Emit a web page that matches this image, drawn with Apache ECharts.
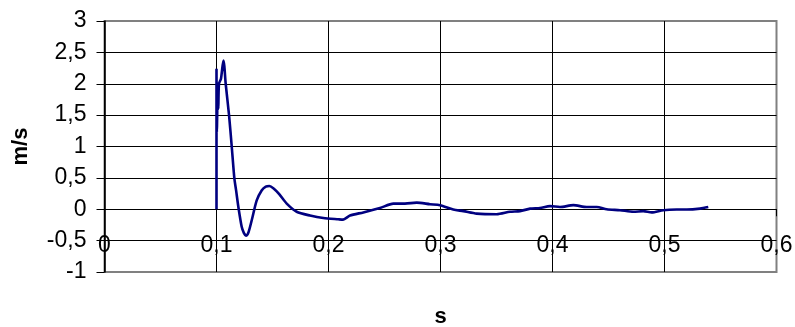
<!DOCTYPE html>
<html>
<head>
<meta charset="utf-8">
<script src="https://cdn.jsdelivr.net/npm/echarts@6/dist/echarts.min.js"></script>
<style>
  html, body { margin: 0; padding: 0; background: #fff; }
  #chart { width: 795px; height: 327px; }
</style>
</head>
<body>
<div id="chart"></div>
<script>
// Time samples (s) and velocity (m/s) of the recorded response
const timeS = [0.1, 0.1, 0.1003, 0.1012, 0.1016, 0.1022, 0.104, 0.1062, 0.1070, 0.1082,
  0.1112, 0.1136, 0.1159, 0.1175, 0.1195, 0.1225, 0.1245, 0.1263, 0.1285, 0.1314,
  0.1359, 0.1403, 0.1440, 0.1472, 0.1510, 0.1560, 0.1627, 0.1716, 0.1835, 0.1954,
  0.2088, 0.2130, 0.2192, 0.2311, 0.2460, 0.2579, 0.2683, 0.2788, 0.2906, 0.2996,
  0.3114, 0.3204, 0.3323, 0.3502, 0.3620, 0.3710, 0.3800, 0.3888, 0.3978, 0.4067,
  0.4186, 0.4305, 0.4395, 0.4484, 0.4603, 0.4722, 0.4811, 0.4886, 0.4989, 0.5109,
  0.5199, 0.5317, 0.5391];
const velocity = [0, 2.24, 1.23, 2.0, 1.6, 2.0, 2.08, 2.37, 2.28, 2.0,
  1.5, 1.0, 0.5, 0.3, 0.04, -0.28, -0.38, -0.42, -0.37, -0.18,
  0.14, 0.30, 0.36, 0.37, 0.33, 0.24, 0.09, -0.04, -0.10, -0.14,
  -0.16, -0.165, -0.10, -0.05, 0.02, 0.09, 0.09, 0.105, 0.08, 0.065,
  -0.005, -0.03, -0.07, -0.08, -0.04, -0.03, 0.01, 0.02, 0.05, 0.035,
  0.065, 0.035, 0.035, 0, -0.015, -0.04, -0.03, -0.05, -0.015, -0.005,
  -0.005, 0.01, 0.035];

const xTicks = { min: 0, max: 0.6, step: 0.1 };
const yTicks = { min: -1, max: 3, step: 0.5 };
const xTitle = 's';
const yTitle = 'm/s';

const points = timeS.map((t, i) => [t, velocity[i]]);
const comma = v => String(+v.toFixed(2)).replace('.', ',');
const font = 'Liberation Sans, Arial, sans-serif';

const chart = echarts.init(document.getElementById('chart'), null, { renderer: 'canvas' });
chart.setOption({
  animation: false,
  backgroundColor: '#fff',
  grid: {
    left: 104.5, right: 18.5, top: 21, bottom: 55,
    containLabel: false, outerBoundsMode: 'none',
    show: true, borderColor: '#808080', borderWidth: 2, backgroundColor: '#fff'
  },
  xAxis: {
    type: 'value',
    min: xTicks.min, max: xTicks.max, interval: xTicks.step,
    name: xTitle, nameLocation: 'middle', nameGap: 34,
    nameTextStyle: { fontFamily: font, fontSize: 22, fontWeight: 'bold', color: '#000' },
    axisLine: { show: true, onZero: true, lineStyle: { color: '#000', width: 1 } },
    axisTick: { show: true, inside: false, length: 7, lineStyle: { color: '#000' } },
    axisLabel: { margin: -38, fontFamily: font, fontSize: 23, color: '#000', formatter: comma,
      showMinLabel: true, showMaxLabel: true },
    splitLine: { show: true, showMaxLine: false, lineStyle: { color: '#000', width: 1 } }
  },
  yAxis: {
    type: 'value',
    min: yTicks.min, max: yTicks.max, interval: yTicks.step,
    name: yTitle, nameLocation: 'middle', nameGap: 73, nameRotate: 90,
    nameTextStyle: { fontFamily: font, fontSize: 22, fontWeight: 'bold', color: '#000' },
    axisLine: { show: true, lineStyle: { color: '#000', width: 1.5 } },
    axisTick: { show: true, inside: false, length: 8, lineStyle: { color: '#000' } },
    axisLabel: { margin: 18, fontFamily: font, fontSize: 23, color: '#000', formatter: comma },
    splitLine: { show: true, showMinLine: false, showMaxLine: false,
      lineStyle: { color: '#000', width: 1 } }
  },
  series: [{
    type: 'line',
    data: points,
    smooth: 0.25,
    showSymbol: false,
    lineStyle: { color: '#000080', width: 2.6 },
    z: 5
  }]
});
</script>
</body>
</html>
